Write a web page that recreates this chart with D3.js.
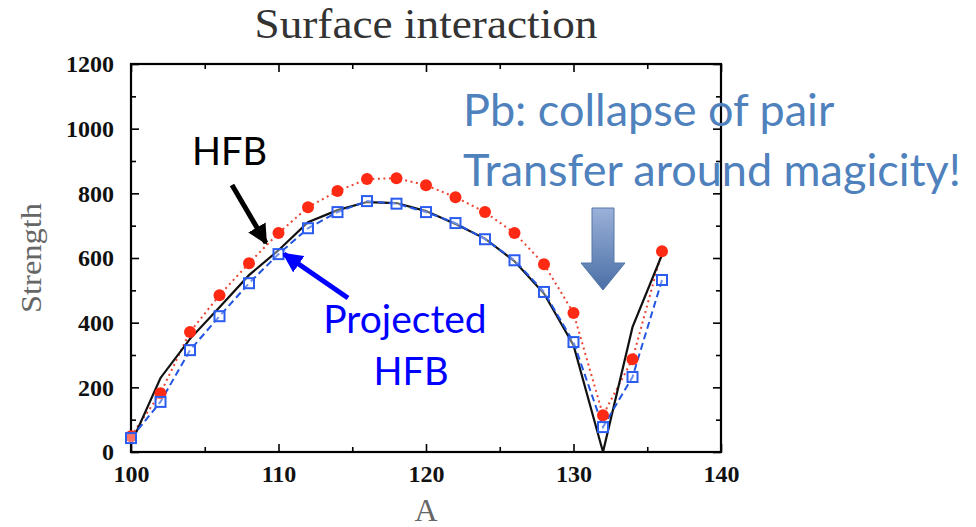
<!DOCTYPE html>
<html>
<head>
<meta charset="utf-8">
<script src="https://cdn.jsdelivr.net/npm/d3@7"></script>
<style>
  html, body { margin: 0; padding: 0; background: #fff; }
  svg { display: block; }
</style>
</head>
<body>
<svg id="chart" width="976" height="527"></svg>
<script>
// Mass number A (even nuclei along the Sn chain)
const massNumbers = [100, 102, 104, 106, 108, 110, 112, 114, 116, 118, 120, 122, 124, 126, 128, 130, 132, 134, 136];

// Pairing strength, three calculations
const hfbStrength       = [25, 229, 350, 448, 547, 624, 711, 748, 773, 770, 745, 705, 660, 590, 490, 330, 0, 386, 610];
const projectedStrength = [43, 155, 315, 420, 522, 612, 692, 742, 776, 768, 742, 708, 658, 593, 495, 340, 77, 232, 532];
const otherStrength     = [49, 182, 371, 485, 584, 677, 757, 807, 844, 847, 825, 788, 742, 677, 581, 430, 114, 287, 621];

const xTicks = [100, 110, 120, 130, 140];
const yTicks = [0, 200, 400, 600, 800, 1000, 1200];

const svg = d3.select("#chart");
const margin = { left: 131, right: 255, top: 64, bottom: 75 };
const W = 976, H = 527;

const x = d3.scaleLinear().domain([100, 140]).range([margin.left, W - margin.right]);
const y = d3.scaleLinear().domain([0, 1200]).range([H - margin.bottom, margin.top]);

const serif = "'Liberation Serif', 'DejaVu Serif', serif";
const sans = "Lato, 'Open Sans', sans-serif";

// Title
svg.append("text")
  .attr("x", (x(100) + x(140)) / 2).attr("y", 38)
  .attr("text-anchor", "middle")
  .attr("font-family", serif).attr("font-size", 42)
  .attr("textLength", 343).attr("lengthAdjust", "spacingAndGlyphs")
  .attr("fill", "#333")
  .text("Surface interaction");

// Axes with inward ticks on all four sides
const tickStyle = g => {
  g.select(".domain").remove();
  g.selectAll("line").attr("stroke", "#000").attr("stroke-width", 1.6);
};
const labelStyle = g => g.selectAll("text")
  .attr("font-family", serif).attr("font-weight", "bold").attr("font-size", 24).attr("fill", "#111");
const minorX = d3.range(105, 140, 10);
const minorY = d3.range(100, 1200, 200);

svg.append("g").attr("transform", `translate(0,${y(0)})`)
  .call(d3.axisBottom(x).tickValues(xTicks).tickSize(-8).tickPadding(13).tickFormat(d3.format("d")))
  .call(tickStyle).call(labelStyle);
svg.append("g").attr("transform", `translate(0,${y(0)})`)
  .call(d3.axisBottom(x).tickValues(minorX).tickSize(-5).tickFormat(""))
  .call(tickStyle);
svg.append("g").attr("transform", `translate(0,${y(1200)})`)
  .call(d3.axisTop(x).tickValues(xTicks).tickSize(-8).tickFormat(""))
  .call(tickStyle);
svg.append("g").attr("transform", `translate(0,${y(1200)})`)
  .call(d3.axisTop(x).tickValues(minorX).tickSize(-5).tickFormat(""))
  .call(tickStyle);

svg.append("g").attr("transform", `translate(${x(100)},0)`)
  .call(d3.axisLeft(y).tickValues(yTicks).tickSize(-8).tickPadding(17).tickFormat(d3.format("d")))
  .call(tickStyle).call(labelStyle);
svg.append("g").attr("transform", `translate(${x(100)},0)`)
  .call(d3.axisLeft(y).tickValues(minorY).tickSize(-5).tickFormat(""))
  .call(tickStyle);
svg.append("g").attr("transform", `translate(${x(140)},0)`)
  .call(d3.axisRight(y).tickValues(yTicks).tickSize(-8).tickFormat(""))
  .call(tickStyle);
svg.append("g").attr("transform", `translate(${x(140)},0)`)
  .call(d3.axisRight(y).tickValues(minorY).tickSize(-5).tickFormat(""))
  .call(tickStyle);

// Frame
svg.append("rect")
  .attr("x", x(100)).attr("y", y(1200))
  .attr("width", x(140) - x(100)).attr("height", y(0) - y(1200))
  .attr("fill", "none").attr("stroke", "#000").attr("stroke-width", 2.2);

// Axis titles
svg.append("text")
  .attr("transform", `translate(41,${(y(0) + y(1200)) / 2}) rotate(-90)`)
  .attr("text-anchor", "middle")
  .attr("font-family", serif).attr("font-size", 29).attr("fill", "#666")
  .attr("textLength", 110).attr("lengthAdjust", "spacingAndGlyphs")
  .text("Strength");
svg.append("text")
  .attr("x", (x(100) + x(140)) / 2).attr("y", 521)
  .attr("text-anchor", "middle")
  .attr("font-family", serif).attr("font-size", 32).attr("fill", "#666")
  .text("A");

// Series
const line = vals => d3.line().x((d, i) => x(massNumbers[i])).y(d => y(d))(vals);

svg.append("path").attr("d", line(otherStrength))
  .attr("fill", "none").attr("stroke", "#ee4433").attr("stroke-width", 2)
  .attr("stroke-dasharray", "2,3.5");
svg.append("path").attr("d", line(hfbStrength))
  .attr("fill", "none").attr("stroke", "#111").attr("stroke-width", 2.2);
svg.append("path").attr("d", line(projectedStrength))
  .attr("fill", "none").attr("stroke", "#2255e0").attr("stroke-width", 2)
  .attr("stroke-dasharray", "7,4");

svg.append("g").selectAll("circle").data(otherStrength).join("circle")
  .attr("cx", (d, i) => x(massNumbers[i])).attr("cy", d => y(d))
  .attr("r", 6).attr("fill", "#ff2a14");

svg.append("g").selectAll("rect").data(projectedStrength).join("rect")
  .attr("x", (d, i) => x(massNumbers[i]) - 5).attr("y", d => y(d) - 5)
  .attr("width", 10).attr("height", 10)
  .attr("fill", "rgba(255,255,255,0.35)").attr("stroke", "#2a5cf0").attr("stroke-width", 2);

// Annotations
const defs = svg.append("defs");
const marker = (id, color) => defs.append("marker")
  .attr("id", id).attr("viewBox", "0 0 10 10").attr("refX", 9).attr("refY", 5)
  .attr("markerWidth", 4).attr("markerHeight", 4).attr("orient", "auto")
  .append("path").attr("d", "M0,0 L10,5 L0,10 Z").attr("fill", color);
marker("headBlack", "#000");
marker("headBlue", "#0000ff");

svg.append("text").attr("x", 192).attr("y", 165)
  .attr("font-family", sans).attr("font-size", 38).attr("fill", "#000").text("HFB");
svg.append("line").attr("x1", 232).attr("y1", 185).attr("x2", 266).attr("y2", 243)
  .attr("stroke", "#000").attr("stroke-width", 5).attr("marker-end", "url(#headBlack)");

svg.append("text").attr("x", 405).attr("y", 333).attr("text-anchor", "middle")
  .attr("font-family", sans).attr("font-size", 39).attr("fill", "#0000ff").text("Projected");
svg.append("text").attr("x", 411).attr("y", 385).attr("text-anchor", "middle")
  .attr("font-family", sans).attr("font-size", 38).attr("fill", "#0000ff").text("HFB");
svg.append("line").attr("x1", 348).attr("y1", 298).attr("x2", 284).attr("y2", 254)
  .attr("stroke", "#0000ff").attr("stroke-width", 5).attr("marker-end", "url(#headBlue)");

svg.append("text").attr("x", 463).attr("y", 126)
  .attr("font-family", sans).attr("font-size", 45).attr("fill", "#4f81bd").text("Pb: collapse of pair");
svg.append("text").attr("x", 463).attr("y", 186)
  .attr("font-family", sans).attr("font-size", 45).attr("fill", "#4f81bd").text("Transfer around magicity!");

// Block arrow pointing at the A = 132 minimum
const grad = defs.append("linearGradient").attr("id", "blockGrad")
  .attr("x1", 0).attr("y1", 0).attr("x2", 0).attr("y2", 1);
grad.append("stop").attr("offset", "0%").attr("stop-color", "#9bb1d9");
grad.append("stop").attr("offset", "100%").attr("stop-color", "#4a6fa5");
const cx = x(132);
svg.append("path")
  .attr("d", `M${cx - 11},208 L${cx + 11},208 L${cx + 11},263 L${cx + 22},263 L${cx},290 L${cx - 22},263 L${cx - 11},263 Z`)
  .attr("fill", "url(#blockGrad)").attr("stroke", "#5577aa").attr("stroke-width", 1);
</script>
</body>
</html>
